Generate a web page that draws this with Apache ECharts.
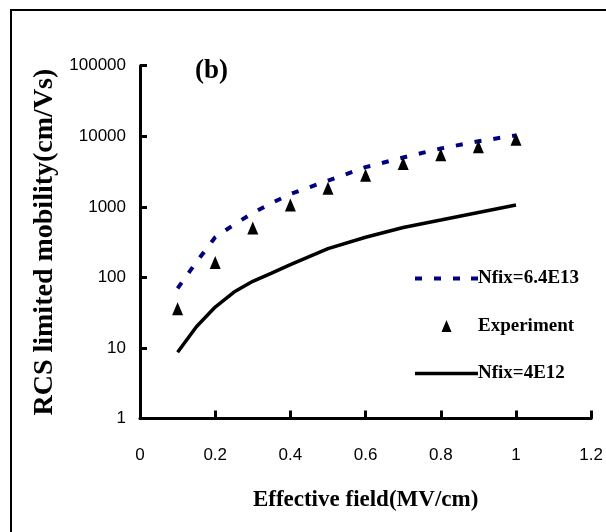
<!DOCTYPE html>
<html>
<head>
<meta charset="utf-8">
<script src="https://cdn.jsdelivr.net/npm/echarts@6/dist/echarts.min.js"></script>
<style>
html, body { margin: 0; padding: 0; background: #fff; }
#mobility { width: 606px; height: 532px; }
</style>
</head>
<body>
<div id="mobility"></div>
<script>
// model curves (x in MV/cm)
const xModel = [0.1, 0.15, 0.2, 0.25, 0.3, 0.35, 0.4, 0.5, 0.6, 0.7, 0.8, 0.9, 1.0];
const nfixHigh = [70, 165, 370, 560, 820, 1130, 1520, 2350, 3650, 5000, 6700, 8500, 10300];
const nfixLow = [8.7, 20, 38, 62, 88, 115, 152, 255, 370, 510, 650, 830, 1060];
// measured points
const xExp = [0.1, 0.2, 0.3, 0.4, 0.5, 0.6, 0.7, 0.8, 0.9, 1.0];
const experiment = [36, 162, 500, 1060, 1830, 2800, 4100, 5450, 7100, 9100];
const seriesNames = ['Nfix=6.4E13', 'Experiment', 'Nfix=4E12'];

const serif = '"Liberation Serif", "Times New Roman", serif';
const sans = '"Liberation Sans", Arial, sans-serif';

function pairs(xs, ys) {
    return xs.map((x, i) => [x, ys[i]]);
}

// legend glyphs: dashed line, triangle, solid line
const dashIcon = 'path://M0,0h7v4h-7z M19,0h7v4h-7z M38,0h7v4h-7z M56,0h7v4h-7z';
const triIcon = 'path://M5,0L10,12L0,12z';
const solidIcon = 'path://M0,0h63v3.5h-63z';

let myChart = echarts.init(document.getElementById('mobility'));
myChart.setOption({
    backgroundColor: '#fff',
    animation: false,
    graphic: [{
        type: 'rect',
        shape: { x: 11, y: 10, width: 700, height: 700 },
        style: { fill: 'none', stroke: '#000', lineWidth: 2 },
        silent: true
    }],
    title: {
        text: '(b)',
        left: 190,
        top: 53,
        textStyle: { fontFamily: serif, fontWeight: 'bold', fontSize: 27, color: '#000' }
    },
    grid: { left: 140, right: 14.5, top: 65.7, bottom: 113.5 },
    legend: {
        orient: 'vertical',
        left: 410,
        top: 264,
        itemWidth: 63,
        itemHeight: 12,
        itemGap: 28.5,
        symbolKeepAspect: true,
        data: [
            { name: seriesNames[0], icon: dashIcon },
            { name: seriesNames[1], icon: triIcon },
            { name: seriesNames[2], icon: solidIcon }
        ],
        textStyle: { fontFamily: serif, fontWeight: 'bold', fontSize: 19, color: '#000', padding: [0, 0, 0, -5] }
    },
    xAxis: {
        type: 'value',
        min: 0,
        max: 1.2,
        interval: 0.2,
        name: 'Effective field(MV/cm)',
        nameLocation: 'middle',
        nameGap: 70,
        nameTextStyle: { fontFamily: serif, fontWeight: 'bold', fontSize: 23, color: '#000' },
        axisLine: { lineStyle: { color: '#000', width: 3 } },
        axisTick: { inside: true, length: 8, lineStyle: { color: '#000', width: 3 } },
        axisLabel: { margin: 28, fontFamily: sans, fontSize: 17, color: '#000' },
        splitLine: { show: false }
    },
    yAxis: {
        type: 'log',
        logBase: 10,
        min: 1,
        max: 100000,
        name: 'RCS limited mobility(cm/Vs)',
        nameLocation: 'middle',
        nameGap: 79,
        nameTextStyle: { fontFamily: serif, fontWeight: 'bold', fontSize: 28, color: '#000' },
        axisLine: { show: true, lineStyle: { color: '#000', width: 3 } },
        axisTick: { show: true, inside: true, length: 7, lineStyle: { color: '#000', width: 3 } },
        axisLabel: {
            margin: 14,
            fontFamily: sans,
            fontSize: 17,
            color: '#000',
            formatter: function (v) { return String(Math.round(v)); }
        },
        splitLine: { show: false },
        minorTick: { show: false }
    },
    series: [
        {
            name: seriesNames[0],
            type: 'line',
            symbol: 'none',
            data: pairs(xModel, nfixHigh),
            itemStyle: { color: '#000080' },
            lineStyle: { color: '#000080', width: 4, type: [7, 12] },
            z: 3
        },
        {
            name: seriesNames[1],
            type: 'scatter',
            symbol: 'triangle',
            symbolSize: [11, 13],
            data: pairs(xExp, experiment),
            itemStyle: { color: '#000', opacity: 1 },
            z: 4
        },
        {
            name: seriesNames[2],
            type: 'line',
            symbol: 'none',
            data: pairs(xModel, nfixLow),
            itemStyle: { color: '#000' },
            lineStyle: { color: '#000', width: 3.5 },
            z: 3
        }
    ]
});
window.addEventListener('resize', function () {
    myChart.resize();
});
</script>
</body>
</html>
